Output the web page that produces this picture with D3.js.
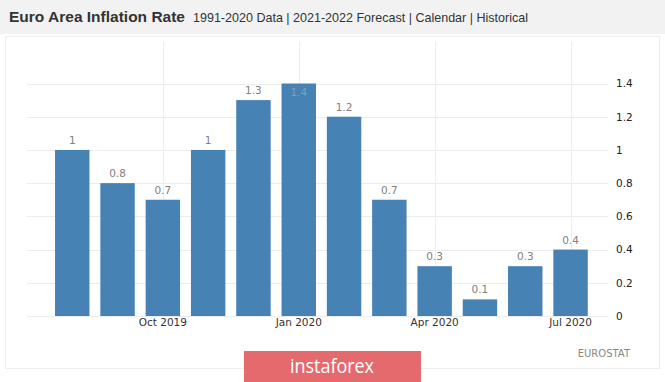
<!DOCTYPE html>
<html>
<head>
<meta charset="utf-8">
<script src="https://cdn.jsdelivr.net/npm/d3@7/dist/d3.min.js"></script>
<style>
  html, body { margin: 0; padding: 0; background: #fff; }
  svg { display: block; }
</style>
</head>
<body>
<svg id="chart" width="665" height="382"></svg>
<script>
const months = ["Aug 2019","Sep 2019","Oct 2019","Nov 2019","Dec 2019","Jan 2020","Feb 2020","Mar 2020","Apr 2020","May 2020","Jun 2020","Jul 2020"];
const values = [1, 0.8, 0.7, 1, 1.3, 1.4, 1.2, 0.7, 0.3, 0.1, 0.3, 0.4];
const xTickLabels = ["Oct 2019","Jan 2020","Apr 2020","Jul 2020"];
const yTicks = [0, 0.2, 0.4, 0.6, 0.8, 1, 1.2, 1.4];
const title = "Euro Area Inflation Rate";
const subtitle = "1991-2020 Data | 2021-2022 Forecast | Calendar | Historical";
const source = "EUROSTAT";

const svg = d3.select("#chart");
const W = 665, H = 382;

// header band
svg.append("rect").attr("x",0).attr("y",0).attr("width",W).attr("height",34).attr("fill","#f2f2f2");
svg.append("text").attr("x",9).attr("y",22)
  .attr("font-family","Liberation Sans, Arial, sans-serif").attr("font-weight","bold")
  .attr("font-size",15.5).attr("fill","#333").text(title);
svg.append("text").attr("x",193).attr("y",22)
  .attr("font-family","Liberation Sans, Arial, sans-serif")
  .attr("font-size",12.6).attr("fill","#333")
  .attr("textLength",335).attr("lengthAdjust","spacingAndGlyphs").text(subtitle);

// panel
svg.append("rect").attr("x",5.5).attr("y",36.5).attr("width",654).attr("height",332)
  .attr("fill","#fff").attr("stroke","#eeeeee");

const x = d3.scaleBand().domain(months).range([49.6, 593.2]).paddingInner(0.24).paddingOuter(0.12);
const y = d3.scaleLinear().domain([0, 1.4]).range([316, 83.5]);

const g = svg.append("g");
// horizontal grid
g.selectAll("line.h").data(yTicks).join("line").attr("class","h")
  .attr("x1",27).attr("x2",608).attr("y1",d=>Math.round(y(d))+0.5).attr("y2",d=>Math.round(y(d))+0.5)
  .attr("stroke","#ececec").attr("stroke-width",1);
// vertical grid at x ticks
g.selectAll("line.v").data(xTickLabels).join("line").attr("class","v")
  .attr("x1",d=>Math.round(x(d)+x.bandwidth()/2)+0.5).attr("x2",d=>Math.round(x(d)+x.bandwidth()/2)+0.5)
  .attr("y1",42).attr("y2",316)
  .attr("stroke","#efefef").attr("stroke-width",1);

// y axis labels (right)
const yAxis = d3.axisRight(y).tickValues(yTicks).tickSize(0).tickPadding(0).tickFormat(d3.format("~g"));
const ya = svg.append("g").attr("transform","translate(616,0)").call(yAxis);
ya.select(".domain").remove();
ya.selectAll("text").attr("font-family","DejaVu Sans, sans-serif").attr("font-size",10.5).attr("fill","#222");

// bars
g.selectAll("rect.bar").data(values).join("rect").attr("class","bar")
  .attr("x",(d,i)=>x(months[i])).attr("width",x.bandwidth())
  .attr("y",d=>y(d)).attr("height",d=>y(0)-y(d))
  .attr("fill","#4682b4");

// value labels
g.selectAll("text.val").data(values).join("text").attr("class","val")
  .attr("x",(d,i)=>x(months[i])+x.bandwidth()/2)
  .attr("y",d=> y(d)-6 < 80 ? y(d)+12 : y(d)-6)
  .attr("text-anchor","middle")
  .attr("font-family","DejaVu Sans, sans-serif").attr("font-size",10.5)
  .attr("fill",d=> y(d)-6 < 80 ? "#7f9fbd" : "#808080")
  .text(d=>d3.format("~g")(d));

// x axis labels
const xAxis = d3.axisBottom(x).tickValues(xTickLabels).tickSize(0).tickPadding(0);
const xa = svg.append("g").attr("transform","translate(0,319)").call(xAxis);
xa.select(".domain").remove();
xa.selectAll("text").attr("font-family","DejaVu Sans, sans-serif").attr("font-size",10.5).attr("fill","#333");

// source
svg.append("text").attr("x",630).attr("y",357).attr("text-anchor","end")
  .attr("font-family","DejaVu Sans, sans-serif").attr("font-size",10).attr("fill","#888").text(source);

// watermark
svg.append("rect").attr("x",244).attr("y",351).attr("width",177).attr("height",31).attr("fill","#e46a6e");
svg.append("text").attr("x",332).attr("y",373).attr("text-anchor","middle")
  .attr("font-family","Open Sans, sans-serif").attr("font-size",20).attr("fill","#fff")
  .attr("textLength",84).attr("lengthAdjust","spacingAndGlyphs").text("instaforex");
</script>
</body>
</html>
